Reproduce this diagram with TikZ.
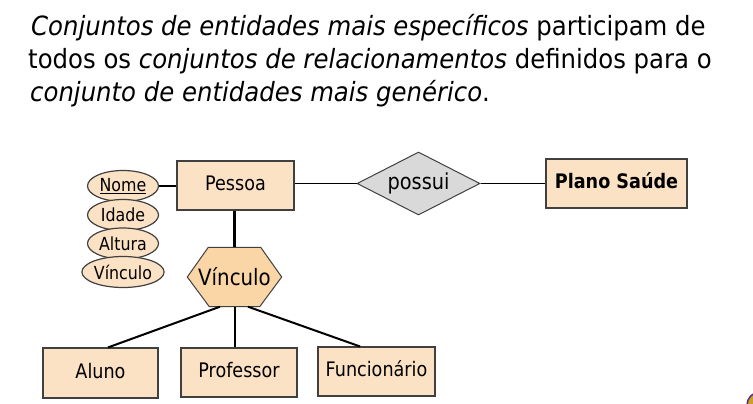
\documentclass[tikz,border=0pt]{standalone}
\usepackage{fontspec}
\setmainfont{DejaVu Sans}[FakeStretch=0.88]
\newfontfamily\titlefont{DejaVu Sans}[FakeStretch=0.92]
\usetikzlibrary{shapes.geometric,backgrounds}
\definecolor{peach}{HTML}{FCE2C4}
\definecolor{hexfill}{HTML}{FAD6A6}
\definecolor{relfill}{HTML}{D9D9D9}
\definecolor{edgec}{HTML}{404040}
\definecolor{logogold}{HTML}{C9A227}
\definecolor{logopurple}{HTML}{5B2C83}
\begin{document}
\begin{tikzpicture}[x=1pt,y=-1pt,
  titletext/.style={anchor=base west,inner sep=0pt,font=\titlefont\fontsize{26.5}{30}\selectfont},
  entbox/.style={draw=edgec,line width=1.1pt,fill=peach,inner sep=0pt,
    font=\fontsize{20}{24}\selectfont,text height=14.5pt,text depth=4pt},
  attr/.style={ellipse,draw=edgec,line width=1.2pt,fill=peach,inner sep=0pt,
    minimum width=71pt,minimum height=31pt,font=\fontsize{18}{20}\selectfont},
  rel/.style={diamond,aspect=1.95,draw=edgec,line width=1pt,fill=relfill,inner sep=0pt,
    minimum width=123pt,minimum height=63pt,font=\fontsize{22}{24}\selectfont},
  hexnode/.style={rectangle,inner sep=0pt,minimum width=94pt,minimum height=59pt,
    font=\fontsize{22.5}{24}\selectfont},
  thinlink/.style={line width=1.2pt},
  thicklink/.style={line width=2pt}]
\useasboundingbox (0,0) rectangle (753,404);

% title
\node[titletext] (t1) at (31,36) {\textit{Conjuntos de entidades mais específicos} participam de};
\node[titletext] (t2) at (28,69) {todos os \textit{conjuntos de relacionamentos} definidos para o};
\node[titletext] (t3) at (30,102) {\textit{conjunto de entidades mais genérico}.};

% entities
\node[entbox,minimum width=117pt,minimum height=49pt] (pessoa) at (235.5,185.5) {Pessoa};
\node[entbox,minimum width=141pt,minimum height=49pt] (plano) at (616.5,183.5) {\textbf{Plano Saúde}};
\node[entbox,minimum width=115pt,minimum height=50pt] (aluno) at (100.5,373) {Aluno};
\node[entbox,minimum width=116pt,minimum height=49pt] (prof) at (239,372.5) {Professor};
\node[entbox,minimum width=117pt,minimum height=49pt] (func) at (376.5,371.5) {Funcionário};

% relationship
\node[rel] (possui) at (418.5,183.5) {possui};

% attributes
\node[attr] (nome) at (123,186) {\underline{Nome}};
\node[attr] (idade) at (123,215) {Idade};
\node[attr] (altura) at (123,243.5) {Altura};
\node[attr] (avinc) at (123,272) {Vínculo};

% specialisation hexagon
\node[hexnode] (vinc) at (234.5,277) {Vínculo};
\begin{scope}[on background layer]
  \draw[draw=edgec,line width=1pt,fill=hexfill]
    ([xshift=21pt]vinc.north west) -- ([xshift=-21pt]vinc.north east) -- (vinc.east)
    -- ([xshift=-22pt]vinc.south east) -- ([xshift=22pt]vinc.south west) -- (vinc.west) -- cycle;
\end{scope}

% connectors
\draw[thicklink] (nome.east) -- (nome.east -| pessoa.west);
\draw[thinlink] (pessoa.east |- possui.west) -- (possui.west);
\draw[thinlink] (possui.east) -- (possui.east -| plano.west);
\draw[line width=2.4pt] (vinc.north |- pessoa.south) -- (vinc.north);
\draw[thicklink] ([xshift=-14.5pt]vinc.south) -- ([xshift=7.5pt]aluno.north);
\draw[thicklink] (vinc.south) -- (vinc.south |- prof.north);
\draw[thicklink] ([xshift=13.5pt]vinc.south) -- ([xshift=-16.5pt]func.north);

% logo fragment in the corner
\draw[draw=logopurple,line width=1.5pt,fill=logogold] (760,405) circle (13);
\end{tikzpicture}
\end{document}
